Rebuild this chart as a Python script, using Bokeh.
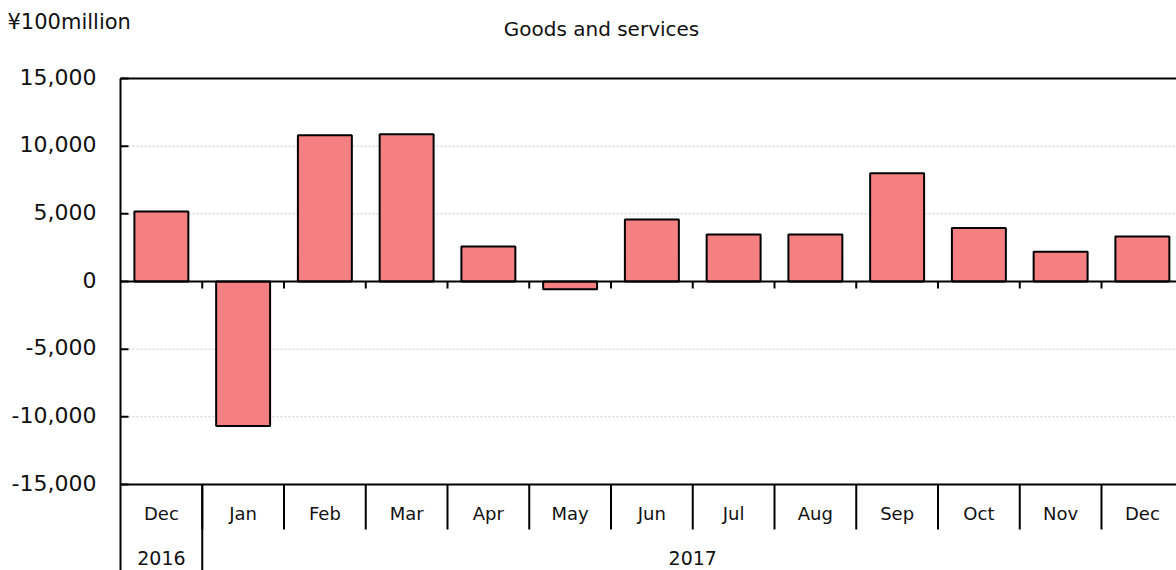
from bokeh.plotting import figure
from bokeh.models import Range1d, ColumnDataSource
from bokeh.core.properties import value
from bokeh.embed import file_html
from bokeh.resources import INLINE
import numpy as np

months = ["Dec", "Jan", "Feb", "Mar", "Apr", "May", "Jun", "Jul", "Aug", "Sep", "Oct", "Nov", "Dec"]
years = ["2016", "2017"]
year_spans = [1, 12]
values = [5180, -10670, 10800, 10880, 2590, -570, 4590, 3480, 3480, 8000, 3950, 2200, 3330]
y_ticks = [-15000, -10000, -5000, 0, 5000, 10000, 15000]
y_labels = ["-15,000", "-10,000", "-5,000", "0", "5,000", "10,000", "15,000"]
grid_ticks = [-10000, -5000, 5000, 10000]
title_text = "Goods and services"
unit_text = "¥100million"

FONT = "DejaVu Sans"
W, H = 1176, 570
X0_PX = 120          # pixel of category axis start
PXX = 81.75          # pixels per category
Y15_PX, YM15_PX = 78, 484
UPX = 30000 / (YM15_PX - Y15_PX)  # data units per pixel


def dx(px):
    return (px - X0_PX) / PXX


def dy(py):
    return 15000 - (py - Y15_PX) * UPX


n = len(months)
p = figure(width=W, height=H, output_backend="svg", toolbar_location=None,
           x_range=Range1d(dx(0), dx(W)), y_range=Range1d(dy(H), dy(0)),
           x_axis_location=None, y_axis_location=None,
           min_border_left=0, min_border_right=0, min_border_top=0, min_border_bottom=0)
p.outline_line_color = None
p.xgrid.visible = False
p.ygrid.visible = False
p.background_fill_color = "white"
p.border_fill_color = "white"

x_right = dx(W + 20)
# gridlines
p.segment(x0=0, x1=x_right, y0=grid_ticks, y1=grid_ticks, line_color="#c8c8c8",
          line_width=1, line_dash="2 2")

centers = np.arange(n) + 0.5
src = ColumnDataSource(dict(x=centers, top=values, m=months))
p.vbar(x="x", top="top", bottom=0, width=0.66, source=src,
       fill_color="#F48082", line_color="black", line_width=2)

# horizontal frame lines: top, zero, bottom
hl = [15000, 0, -15000]
p.segment(x0=0, x1=x_right, y0=hl, y1=hl, line_color="black", line_width=2)
# left axis line
p.segment(x0=[0], x1=[0], y0=[15000], y1=[dy(H + 10)], line_color="black", line_width=2)
# y ticks (inward)
p.segment(x0=0, x1=8 / PXX, y0=y_ticks, y1=y_ticks, line_color="black", line_width=2)
p.text(x=-24 / PXX, y=y_ticks, text=y_labels, text_align="right", text_baseline="middle",
       y_offset=-2, text_font=value(FONT), text_font_size="22px", text_color="#111111")

# ticks on zero line
b = np.arange(1, n)
p.segment(x0=b, x1=b, y0=0, y1=-7 * UPX, line_color="black", line_width=2)

# category table below
p.segment(x0=b, x1=b, y0=-15000, y1=dy(529), line_color="black", line_width=2)
p.segment(x0=[year_spans[0]], x1=[year_spans[0]], y0=[-15000], y1=[dy(H + 10)],
          line_color="black", line_width=2)

p.text(x="x", y=dy(513), text="m", source=src, text_align="center", text_baseline="middle",
       text_font=value(FONT), text_font_size="18px", text_color="#111111")
yc = [year_spans[0] / 2, year_spans[0] + year_spans[1] / 2]
p.text(x=yc, y=[dy(557)] * 2, text=years, text_align="center", text_baseline="middle",
       text_font=value(FONT), text_font_size="19px", text_color="#111111")

p.text(x=[dx(601)], y=[dy(28)], text=[title_text], text_align="center", text_baseline="middle",
       text_font=value(FONT), text_font_size="20px", text_color="#111111")
p.text(x=[dx(7)], y=[dy(21)], text=[unit_text], text_align="left", text_baseline="middle",
       text_font=value(FONT), text_font_size="21px", text_color="#111111")

open("out.html", "w").write(file_html(p, INLINE))
